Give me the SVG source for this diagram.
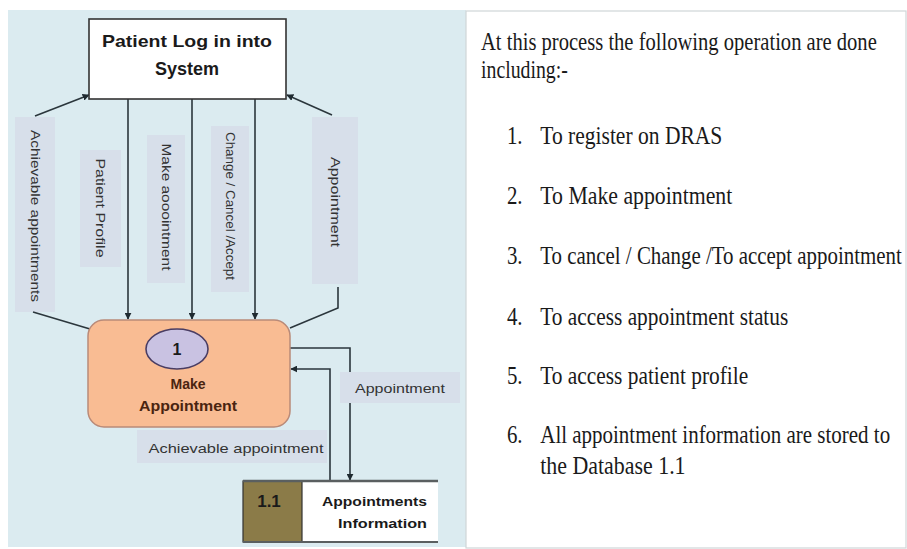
<svg xmlns="http://www.w3.org/2000/svg" width="907" height="549" viewBox="0 0 907 549">
  <defs>
    <marker id="arrow" viewBox="0 0 10 10" refX="9" refY="5" markerWidth="7" markerHeight="7" orient="auto" markerUnits="userSpaceOnUse">
      <path d="M0,0 L10,5 L0,10 z" fill="#1f2a30"/>
    </marker>
    <style>
      .flow { fill: none; stroke: #2b363c; stroke-width: 1.6; }
      .lbl-box { fill: #d7dfea; }
      .lbl { font-family: "Liberation Sans", Arial, sans-serif; font-size: 13px; fill: #333; }
      .bold { font-family: "Liberation Sans", Arial, sans-serif; font-weight: bold; }
      .note { font-family: "Liberation Serif", "Times New Roman", serif; font-size: 25px; fill: #1a1a1a; }
    </style>
  </defs>

  <!-- canvas -->
  <rect x="0" y="0" width="907" height="549" fill="#ffffff"/>
  <rect x="8" y="10" width="458" height="537" fill="#dbebf0"/>
  <rect x="466" y="11" width="440" height="537" fill="#ffffff" stroke="#cfd6d8" stroke-width="1.2"/>

  <!-- data-flow labels -->
  <g id="label-achievable-appointments">
    <rect class="lbl-box" x="15" y="117" width="40" height="195"/>
    <text class="lbl" transform="translate(31,216) rotate(90)" text-anchor="middle" textLength="172" lengthAdjust="spacingAndGlyphs">Achievable appointments</text>
  </g>
  <g id="label-patient-profile">
    <rect class="lbl-box" x="80" y="150" width="41" height="117"/>
    <text class="lbl" transform="translate(96,208) rotate(90)" text-anchor="middle" textLength="99" lengthAdjust="spacingAndGlyphs">Patient Profile</text>
  </g>
  <g id="label-make-appointment">
    <rect class="lbl-box" x="147" y="135" width="38" height="148"/>
    <text class="lbl" transform="translate(162,207) rotate(90)" text-anchor="middle" textLength="127" lengthAdjust="spacingAndGlyphs">Make aooointment</text>
  </g>
  <g id="label-change-cancel">
    <rect class="lbl-box" x="211" y="126" width="38" height="166"/>
    <text class="lbl" transform="translate(226,206) rotate(90)" text-anchor="middle" textLength="148" lengthAdjust="spacingAndGlyphs">Change / Cancel /Accept</text>
  </g>
  <g id="label-appointment-top">
    <rect class="lbl-box" x="312" y="117" width="46" height="167"/>
    <text class="lbl" transform="translate(331,202) rotate(90)" text-anchor="middle" textLength="90" lengthAdjust="spacingAndGlyphs">Appointment</text>
  </g>

  <!-- connectors -->
  <g id="connectors">
    <line class="flow" x1="128" y1="99" x2="128" y2="319" marker-end="url(#arrow)"/>
    <line class="flow" x1="192" y1="99" x2="192" y2="319" marker-end="url(#arrow)"/>
    <line class="flow" x1="255" y1="99" x2="255" y2="319" marker-end="url(#arrow)"/>
    <line class="flow" x1="33" y1="312" x2="90" y2="329"/>
    <line class="flow" x1="35" y1="116" x2="89" y2="95" marker-end="url(#arrow)"/>
    <polyline class="flow" points="338,287 338,308 290,328"/>
    <line class="flow" x1="332" y1="115" x2="287" y2="95" marker-end="url(#arrow)"/>
    <polyline class="flow" points="290,348 350,348 350,480" marker-end="url(#arrow)"/>
    <polyline class="flow" points="330,480 330,369 291,369" marker-end="url(#arrow)"/>
  </g>

  <g id="label-appointment-right">
    <rect class="lbl-box" x="340" y="372" width="120" height="31"/>
    <text class="lbl" x="400" y="393" text-anchor="middle" font-size="14" textLength="90" lengthAdjust="spacingAndGlyphs">Appointment</text>
  </g>
  <g id="label-achievable-appointment">
    <rect class="lbl-box" x="137" y="430" width="190" height="33"/>
    <text class="lbl" x="236" y="453" text-anchor="middle" font-size="14" textLength="175" lengthAdjust="spacingAndGlyphs">Achievable appointment</text>
  </g>

  <!-- external entity -->
  <g id="patient-login">
    <rect x="89" y="19" width="197" height="80" fill="#ffffff" stroke="#333" stroke-width="1.6"/>
    <text class="bold" x="187" y="47" font-size="17" fill="#1a1a1a" text-anchor="middle" textLength="170" lengthAdjust="spacingAndGlyphs">Patient Log in into</text>
    <text class="bold" x="187" y="75" font-size="18" fill="#1a1a1a" text-anchor="middle">System</text>
  </g>

  <!-- process 1 -->
  <g id="make-appointment">
    <rect x="88" y="320" width="202" height="107" rx="16" fill="#f9bc93" stroke="#b98a78" stroke-width="1.5"/>
    <ellipse cx="177" cy="349" rx="31" ry="20" fill="#c9c2e2" stroke="#4a3d63" stroke-width="1.6"/>
    <text class="bold" x="177" y="355" font-size="16" fill="#1a1a1a" text-anchor="middle">1</text>
    <text class="bold" x="188" y="389" font-size="14" fill="#4a2410" text-anchor="middle">Make</text>
    <text class="bold" x="188" y="411" font-size="14" fill="#4a2410" text-anchor="middle" textLength="98" lengthAdjust="spacingAndGlyphs">Appointment</text>
  </g>

  <!-- data store 1.1 -->
  <g id="appointments-store">
    <rect x="302" y="481" width="136" height="61" fill="#ffffff"/>
    <rect x="243" y="481" width="59" height="61" fill="#8b7b48" stroke="#333" stroke-width="1.2"/>
    <line x1="243" y1="481" x2="438" y2="481" stroke="#5a5f60" stroke-width="2.5"/>
    <line x1="243" y1="542" x2="438" y2="542" stroke="#5a5f60" stroke-width="2"/>
    <text class="bold" x="269" y="507" font-size="17" fill="#1a1a1a" text-anchor="middle">1.1</text>
    <text class="bold" x="427" y="506" font-size="13" fill="#1a1a1a" text-anchor="end" textLength="105" lengthAdjust="spacingAndGlyphs">Appointments</text>
    <text class="bold" x="427" y="528" font-size="13" fill="#1a1a1a" text-anchor="end" textLength="89" lengthAdjust="spacingAndGlyphs">Information</text>
  </g>

  <!-- description, set in a horizontally condensed serif -->
  <g id="description" transform="translate(481,0) scale(0.835,1)">
    <text class="note" x="0" y="50" textLength="474" lengthAdjust="spacingAndGlyphs">At this process the following operation are done</text>
    <text class="note" x="0" y="78" textLength="104" lengthAdjust="spacingAndGlyphs">including:-</text>
    <text class="note" x="31" y="144">1.</text>
    <text class="note" x="71" y="144" textLength="218" lengthAdjust="spacingAndGlyphs">To register on DRAS</text>
    <text class="note" x="31" y="204">2.</text>
    <text class="note" x="71" y="204" textLength="230" lengthAdjust="spacingAndGlyphs">To Make appointment</text>
    <text class="note" x="31" y="264">3.</text>
    <text class="note" x="71" y="264" textLength="433" lengthAdjust="spacingAndGlyphs">To cancel / Change /To accept appointment</text>
    <text class="note" x="31" y="325">4.</text>
    <text class="note" x="71" y="325" textLength="297" lengthAdjust="spacingAndGlyphs">To access appointment status</text>
    <text class="note" x="31" y="384">5.</text>
    <text class="note" x="71" y="384" textLength="249" lengthAdjust="spacingAndGlyphs">To access patient profile</text>
    <text class="note" x="31" y="443">6.</text>
    <text class="note" x="71" y="443" textLength="419" lengthAdjust="spacingAndGlyphs">All appointment information are stored to</text>
    <text class="note" x="71" y="474" textLength="174" lengthAdjust="spacingAndGlyphs">the Database 1.1</text>
  </g>
</svg>
